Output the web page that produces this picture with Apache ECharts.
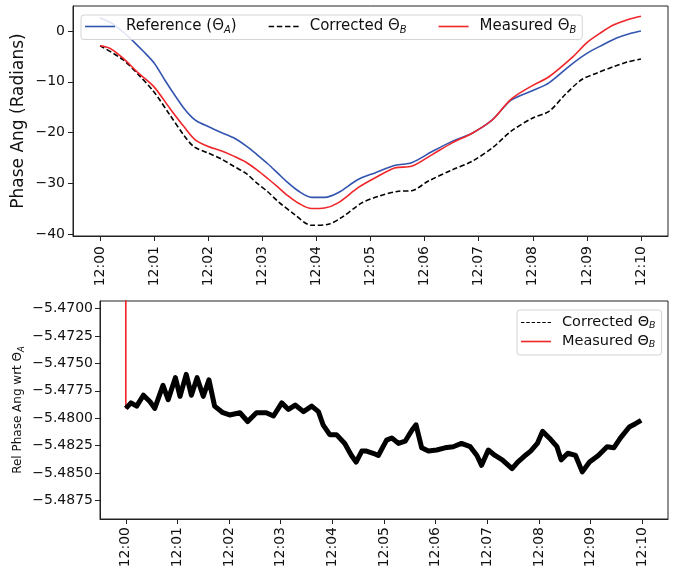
<!DOCTYPE html>
<html><head><meta charset="utf-8">
<script src="https://cdn.jsdelivr.net/npm/echarts@6/dist/echarts.min.js"></script>
<style>html,body{margin:0;padding:0;background:#fff}#c{width:678px;height:569px}</style>
</head><body><div id="c"></div>
<script>
// ---------- data ----------
const tickMinutes = [0,1,2,3,4,5,6,7,8,9,10];
const tickLabels = ['12:00','12:01','12:02','12:03','12:04','12:05','12:06','12:07','12:08','12:09','12:10'];
const topYTicks = [0,-10,-20,-30,-40];
const bottomYTicks = [-5.47,-5.4725,-5.475,-5.4775,-5.48,-5.4825,-5.485,-5.4875];

// Top: phase angle (radians) vs minutes after 12:00
const refT = [0,0.25,0.5,0.62,0.8,1.0,1.2,1.36,1.55,1.7,1.8,2.0,2.25,2.47,2.7,2.9,3.1,3.29,3.45,3.66,3.91,4.15,4.4,4.77,5.08,5.46,5.76,6.14,6.51,6.88,7.25,7.6,8.0,8.3,8.7,9.0,9.3,9.55,9.8,10.0];
const refV = [2.6,1.3,-0.9,-2.1,-4.0,-6.3,-9.7,-12.3,-15.2,-17.0,-17.8,-18.8,-20.0,-21.0,-22.6,-24.3,-26.1,-28.0,-29.6,-31.4,-32.7,-32.7,-31.8,-29.2,-27.9,-26.4,-25.9,-23.7,-21.7,-20.1,-17.5,-13.6,-11.7,-10.2,-6.7,-4.4,-2.7,-1.4,-0.5,0.0];

const corT = [0,0.43,0.71,0.99,1.29,1.55,1.73,2.0,2.25,2.47,2.7,2.9,3.1,3.29,3.6,3.91,4.22,4.46,4.84,5.15,5.52,5.76,6.07,6.51,6.88,7.25,7.6,8.0,8.3,8.6,8.9,9.2,9.5,9.75,10.0];
const corV = [-2.9,-5.7,-8.6,-11.9,-16.5,-20.5,-22.7,-24.0,-25.2,-26.6,-28.0,-29.9,-31.6,-33.5,-36.1,-38.2,-38.0,-36.7,-33.8,-32.5,-31.5,-31.4,-29.5,-27.3,-25.6,-23.0,-19.7,-17.1,-15.8,-12.5,-9.6,-8.2,-7.0,-6.1,-5.5];

const meaT = [0,0.18,0.43,0.71,0.99,1.29,1.55,1.76,2.0,2.25,2.47,2.7,2.9,3.1,3.29,3.45,3.66,3.91,4.15,4.4,4.77,5.08,5.46,5.76,6.14,6.51,6.88,7.25,7.6,8.0,8.3,8.75,9.0,9.25,9.5,9.75,10.0];
const meaV = [-2.9,-3.4,-5.4,-8.3,-10.9,-15.2,-18.8,-21.4,-22.7,-23.6,-24.6,-25.8,-27.3,-29.0,-30.7,-32.2,-33.8,-34.9,-34.8,-33.8,-30.8,-28.9,-26.9,-26.6,-24.3,-22.0,-20.1,-17.5,-13.4,-10.7,-9.0,-5.0,-2.3,-0.4,1.2,2.2,2.9];

// Bottom: relative phase angle wrt Theta_A
const relT = [0,0.1,0.21,0.34,0.47,0.56,0.72,0.82,0.96,1.05,1.17,1.27,1.38,1.5,1.61,1.72,1.88,2.01,2.21,2.36,2.53,2.72,2.86,3.02,3.15,3.28,3.44,3.6,3.73,3.82,3.95,4.08,4.24,4.37,4.46,4.57,4.66,4.79,4.89,5.05,5.15,5.28,5.41,5.54,5.62,5.73,5.86,6.02,6.18,6.34,6.5,6.67,6.8,6.89,7.02,7.15,7.29,7.48,7.59,7.71,7.84,7.97,8.07,8.2,8.35,8.43,8.56,8.71,8.84,8.98,9.15,9.32,9.45,9.58,9.75,9.87,9.98];
const relCorrected = [-5.4791,-5.4786,-5.4789,-5.4779,-5.4785,-5.4791,-5.4770,-5.4783,-5.4763,-5.4780,-5.4760,-5.4779,-5.4763,-5.4780,-5.4765,-5.4789,-5.4795,-5.4797,-5.4795,-5.4803,-5.4795,-5.4795,-5.4798,-5.4786,-5.4792,-5.4788,-5.4794,-5.4789,-5.4794,-5.4806,-5.4815,-5.4815,-5.4823,-5.4834,-5.4840,-5.4830,-5.4830,-5.4832,-5.4834,-5.4820,-5.4818,-5.4823,-5.4821,-5.4811,-5.4806,-5.4827,-5.4830,-5.4829,-5.4827,-5.4826,-5.4823,-5.4826,-5.4834,-5.4843,-5.4829,-5.4834,-5.4838,-5.4846,-5.4840,-5.4835,-5.4830,-5.4823,-5.4812,-5.4818,-5.4826,-5.4838,-5.4832,-5.4834,-5.4849,-5.4840,-5.4834,-5.4826,-5.4827,-5.4818,-5.4808,-5.4805,-5.4802];
const relMeasuredStartT = [0];
const relMeasuredStartV = [-5.455];

// ---------- chart ----------
const zip = (a, b) => a.map((x, i) => [x, b[i]]);
const FONT = 'DejaVu Sans';
const TXT = '#111';
const FRAME = '#222';
const BLUE = '#3355b0', RED = '#f0262a', BLACK = '#000';

const nameRef = 'Reference (ΘA)', nameCor = 'Corrected ΘB', nameMea = 'Measured ΘB';
const richLabels = {};
richLabels[nameRef] = '{n|Reference (Θ}{s|A}{n|)}';
richLabels[nameCor] = '{n|Corrected Θ}{s|B}';
richLabels[nameMea] = '{n|Measured Θ}{s|B}';

function dashPath(n, dash, gap, h) {
  let p = [], x = 0;
  for (let i = 0; i < n; i++) { p.push('M' + x + ',0H' + (x + dash) + 'V' + h + 'H' + x + 'Z'); x += dash + gap; }
  return 'path://' + p.join(' ');
}
const solidIcon = 'path://M0,0H30V1.6H0Z';

const fmtMinus = s => String(s).replace('-', '\u2212');

function xAxisCfg(gridIndex, margin) {
  return {
    type: 'value', gridIndex, min: -0.5, max: 10.5,
    axisLine: { show: true, onZero: false, lineStyle: { color: FRAME, width: 1 } },
    axisTick: { show: true, length: 5, lineStyle: { color: FRAME }, customValues: tickMinutes },
    axisLabel: { show: true, rotate: 90, margin, color: TXT, fontSize: 14, fontFamily: FONT,
      customValues: tickMinutes, formatter: v => tickLabels[tickMinutes.indexOf(v)] },
    splitLine: { show: false }
  };
}

const option = {
  animation: false,
  backgroundColor: '#fff',
  grid: [
    { left: 73, right: 10, top: 6, height: 230, show: true, borderColor: FRAME, borderWidth: 1, containLabel: false, outerBoundsMode: 'none' },
    { left: 100, right: 10, top: 301, height: 218, show: true, borderColor: FRAME, borderWidth: 1, containLabel: false, outerBoundsMode: 'none' }
  ],
  xAxis: [ xAxisCfg(0, 10), xAxisCfg(1, 8) ],
  yAxis: [
    {
      type: 'value', gridIndex: 0, min: -40.3, max: 4.9,
      name: 'Phase Ang (Radians)', nameLocation: 'middle', nameGap: 46, nameMoveOverlap: false,
      nameTextStyle: { fontSize: 17, color: TXT, fontFamily: FONT },
      axisLine: { show: true, onZero: false, lineStyle: { color: FRAME } },
      axisTick: { show: true, length: 5, lineStyle: { color: FRAME }, customValues: topYTicks },
      axisLabel: { margin: 8, color: TXT, fontSize: 14, fontFamily: FONT, customValues: topYTicks, formatter: v => fmtMinus(v) },
      splitLine: { show: false }
    },
    {
      type: 'value', gridIndex: 1, min: -5.4892, max: -5.4693,
      name: '{n|Rel Phase Ang wrt Θ}{s|A}', nameLocation: 'middle', nameGap: 74, nameMoveOverlap: false,
      nameTextStyle: { color: TXT, fontFamily: FONT, rich: {
        n: { fontSize: 12, color: TXT, fontFamily: FONT, lineHeight: 16 },
        s: { fontSize: 8.5, fontStyle: 'italic', color: TXT, fontFamily: FONT, lineHeight: 11, verticalAlign: 'bottom' } } },
      axisLine: { show: true, onZero: false, lineStyle: { color: FRAME } },
      axisTick: { show: true, length: 5, lineStyle: { color: FRAME }, customValues: bottomYTicks },
      axisLabel: { margin: 7, color: TXT, fontSize: 14, fontFamily: FONT, customValues: bottomYTicks, formatter: v => fmtMinus(v.toFixed(4)) },
      splitLine: { show: false }
    }
  ],
  legend: [
    {
      orient: 'horizontal', left: 81, top: 15,
      itemWidth: 30, itemHeight: 2, itemGap: 32,
      padding: [4, 6, 4, 4],
      backgroundColor: 'rgba(255,255,255,0.85)', borderColor: '#d4d4d4', borderWidth: 1, borderRadius: 3,
      itemStyle: { borderWidth: 0 },
      data: [
        { name: nameRef, icon: solidIcon },
        { name: nameCor, icon: dashPath(4, 5.2, 2.6, 1.6) },
        { name: nameMea, icon: solidIcon }
      ],
      formatter: n => richLabels[n],
      textStyle: { color: TXT, fontFamily: FONT, fontSize: 15, padding: [0, 0, 0, 6], rich: {
        n: { fontSize: 15, color: TXT, fontFamily: FONT, lineHeight: 18 },
        s: { fontSize: 10, fontStyle: 'italic', color: TXT, fontFamily: FONT, lineHeight: 13, verticalAlign: 'bottom' } } }
    },
    {
      orient: 'vertical', left: 517, top: 310,
      itemWidth: 30, itemHeight: 2, itemGap: 3,
      padding: [5, 6, 5, 4],
      backgroundColor: 'rgba(255,255,255,0.85)', borderColor: '#d4d4d4', borderWidth: 1, borderRadius: 3,
      itemStyle: { borderWidth: 0 },
      data: [
        { name: nameCor, icon: dashPath(6, 3.4, 1.9, 1.2) },
        { name: nameMea, icon: solidIcon }
      ],
      formatter: n => richLabels[n],
      textStyle: { color: TXT, fontFamily: FONT, fontSize: 14.5, padding: [0, 0, 0, 6], rich: {
        n: { fontSize: 14.5, color: TXT, fontFamily: FONT, lineHeight: 17 },
        s: { fontSize: 9.5, fontStyle: 'italic', color: TXT, fontFamily: FONT, lineHeight: 12, verticalAlign: 'bottom' } } }
    }
  ],
  series: [
    { name: nameRef, type: 'line', xAxisIndex: 0, yAxisIndex: 0, data: zip(refT, refV), symbol: 'none', smooth: 0.3,
      lineStyle: { color: BLUE, width: 1.6 }, itemStyle: { color: BLUE }, z: 2 },
    { name: nameCor, type: 'line', xAxisIndex: 0, yAxisIndex: 0, data: zip(corT, corV), symbol: 'none', smooth: 0.3,
      lineStyle: { color: BLACK, width: 1.6, type: [5.2, 2.6] }, itemStyle: { color: BLACK }, z: 3 },
    { name: nameMea, type: 'line', xAxisIndex: 0, yAxisIndex: 0, data: zip(meaT, meaV), symbol: 'none', smooth: 0.3,
      lineStyle: { color: RED, width: 1.6 }, itemStyle: { color: RED }, z: 4 },
    { name: nameMea, type: 'line', xAxisIndex: 1, yAxisIndex: 1,
      data: zip(relMeasuredStartT, relMeasuredStartV).concat(zip(relT, relCorrected)), symbol: 'none', clip: true,
      lineStyle: { color: RED, width: 1.6 }, itemStyle: { color: RED }, z: 2 },
    { name: nameCor, type: 'line', xAxisIndex: 1, yAxisIndex: 1, data: zip(relT, relCorrected), symbol: 'none', clip: true,
      lineStyle: { color: BLACK, width: 5, join: 'round' }, itemStyle: { color: BLACK }, z: 3 }
  ]
};

const chart = echarts.init(document.getElementById('c'), null, { renderer: 'canvas' });
chart.setOption(option);
</script>
</body></html>
